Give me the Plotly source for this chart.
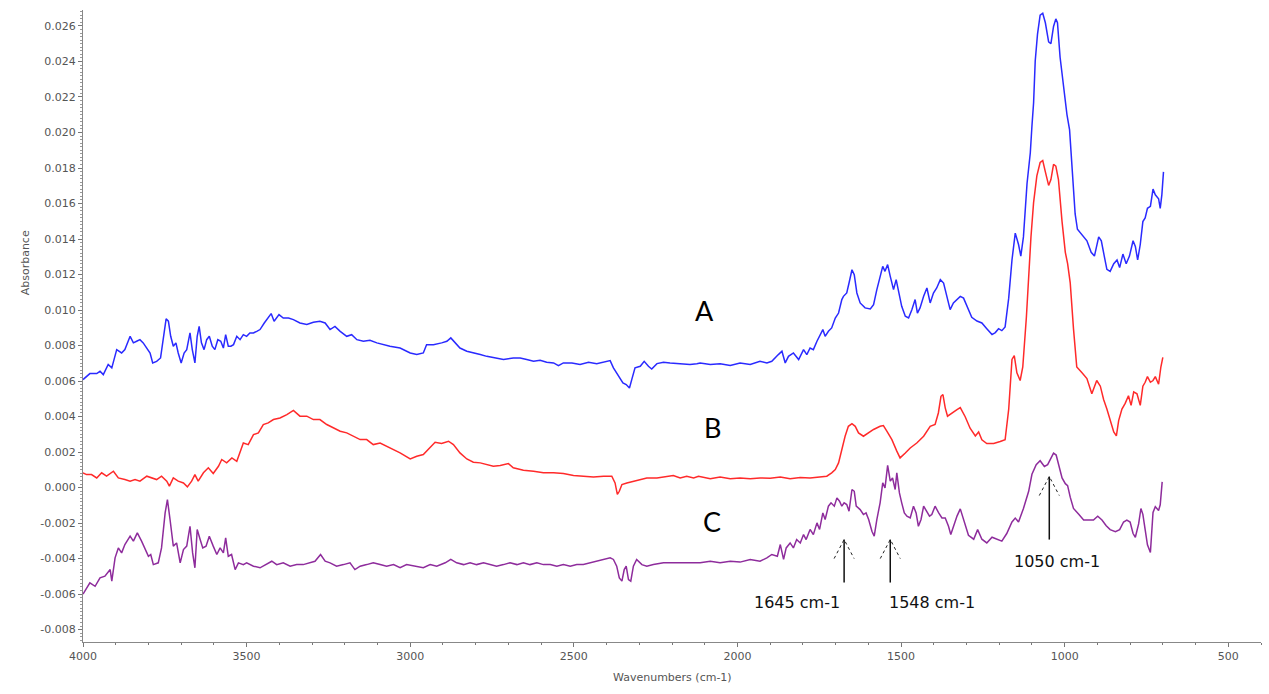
import plotly.graph_objects as go

# ---- Spectrum A (blue) ----
wn_a = [4000, 3979, 3958, 3948, 3938, 3923, 3912, 3897, 3882, 3872, 3856, 3846, 3836, 3826, 3816,
        3805, 3795, 3787, 3775, 3763, 3754, 3746, 3739, 3732, 3724, 3716, 3709, 3700, 3691, 3683,
        3673, 3666, 3658, 3651, 3645, 3638, 3630, 3622, 3614, 3605, 3597, 3588, 3579, 3571, 3564,
        3556, 3548, 3540, 3530, 3520, 3510, 3500, 3490, 3479, 3469, 3459, 3446, 3434, 3425, 3416,
        3401, 3388, 3372, 3357, 3337, 3316, 3296, 3276, 3260, 3245, 3230, 3214, 3194, 3179, 3163,
        3143, 3123, 3102, 3092, 3062, 3031, 3000, 2980, 2960, 2950, 2929, 2904, 2888, 2876, 2863,
        2848, 2827, 2802, 2786, 2766, 2741, 2715, 2685, 2664, 2644, 2623, 2603, 2583, 2562, 2547,
        2532, 2506, 2481, 2455, 2430, 2409, 2389, 2379, 2364, 2350, 2340, 2330, 2323, 2313, 2297,
        2285, 2272, 2262, 2246, 2226, 2206, 2185, 2165, 2145, 2124, 2114, 2083, 2053, 2022, 1992,
        1961, 1931, 1910, 1895, 1875, 1864, 1854, 1844, 1829, 1813, 1798, 1788, 1778, 1768, 1757,
        1747, 1739, 1732, 1722, 1712, 1701, 1691, 1681, 1676, 1666, 1659, 1650, 1643, 1635, 1625,
        1610, 1594, 1584, 1574, 1564, 1556, 1549, 1541, 1533, 1523, 1515, 1508, 1498, 1487, 1477,
        1467, 1457, 1450, 1442, 1431, 1421, 1411, 1401, 1391, 1380, 1370, 1360, 1350, 1340, 1329,
        1319, 1309, 1299, 1284, 1268, 1253, 1238, 1222, 1212, 1202, 1192, 1182, 1171, 1161, 1151,
        1141, 1134, 1126, 1115, 1105, 1100, 1095, 1090, 1083, 1075, 1067, 1059, 1049, 1042, 1034,
        1027, 1022, 1014, 1003, 993, 985, 978, 968, 961, 947, 932, 919, 909, 896, 888,
        879, 871, 861, 850, 840, 832, 822, 812, 802, 791, 784, 777, 769, 761, 754,
        747, 738, 730, 723, 713, 708, 703, 698]
abs_a = [0.00608, 0.00642, 0.00642, 0.00655, 0.00636, 0.00693, 0.00674, 0.00777, 0.00758, 0.00777,
         0.00852, 0.00815, 0.00824, 0.00833, 0.00815, 0.00786, 0.00758, 0.00702, 0.00711, 0.00730,
         0.00852, 0.00950, 0.00937, 0.00852, 0.00796, 0.00815, 0.00758, 0.00702, 0.00758, 0.00777,
         0.00871, 0.00777, 0.00702, 0.00852, 0.00908, 0.00815, 0.00777, 0.00833, 0.00852, 0.00796,
         0.00777, 0.00833, 0.00824, 0.00786, 0.00861, 0.00796, 0.00796, 0.00805, 0.00852, 0.00833,
         0.00861, 0.00852, 0.00871, 0.00871, 0.00880, 0.00890, 0.00927, 0.00955, 0.00980, 0.00937,
         0.00974, 0.00955, 0.00955, 0.00946, 0.00927, 0.00918, 0.00931, 0.00937, 0.00927, 0.00890,
         0.00908, 0.00880, 0.00852, 0.00861, 0.00833, 0.00824, 0.00830, 0.00815, 0.00810, 0.00796,
         0.00786, 0.00758, 0.00749, 0.00758, 0.00805, 0.00805, 0.00815, 0.00824, 0.00843, 0.00815,
         0.00786, 0.00768, 0.00758, 0.00749, 0.00739, 0.00730, 0.00721, 0.00730, 0.00730, 0.00721,
         0.00711, 0.00717, 0.00706, 0.00702, 0.00687, 0.00702, 0.00702, 0.00693, 0.00706, 0.00698,
         0.00706, 0.00715, 0.00674, 0.00627, 0.00589, 0.00580, 0.00561, 0.00608, 0.00674, 0.00683,
         0.00711, 0.00683, 0.00668, 0.00698, 0.00706, 0.00702, 0.00698, 0.00693, 0.00693, 0.00698,
         0.00702, 0.00693, 0.00698, 0.00687, 0.00702, 0.00693, 0.00711, 0.00702, 0.00711, 0.00749,
         0.00768, 0.00702, 0.00739, 0.00758, 0.00721, 0.00777, 0.00749, 0.00786, 0.00777, 0.00824,
         0.00861, 0.00890, 0.00852, 0.00880, 0.00899, 0.00955, 0.00983, 0.01059, 0.01077, 0.01096,
         0.01152, 0.01227, 0.01199, 0.01096, 0.01040, 0.01012, 0.01006, 0.01030, 0.01115, 0.01190,
         0.01246, 0.01218, 0.01256, 0.01190, 0.01115, 0.01171, 0.01115, 0.01021, 0.00965, 0.00955,
         0.01002, 0.01059, 0.00983, 0.01012, 0.01077, 0.01124, 0.01040, 0.01096, 0.01124, 0.01171,
         0.01152, 0.01077, 0.01002, 0.01040, 0.01059, 0.01077, 0.01067, 0.01024, 0.00959, 0.00938,
         0.00927, 0.00895, 0.00862, 0.00873, 0.00895, 0.00884, 0.00905, 0.01067, 0.01282, 0.01433,
         0.01369, 0.01304, 0.01412, 0.01713, 0.01886, 0.02037, 0.02166, 0.02403, 0.02554, 0.02661,
         0.02672, 0.02618, 0.02511, 0.02500, 0.02597, 0.02640, 0.02618, 0.02424, 0.02252, 0.02101,
         0.02015, 0.01799, 0.01541, 0.01455, 0.01422, 0.01390, 0.01325, 0.01304, 0.01412, 0.01390,
         0.01304, 0.01229, 0.01218, 0.01261, 0.01282, 0.01239, 0.01315, 0.01261, 0.01304, 0.01390,
         0.01358, 0.01282, 0.01369, 0.01498, 0.01519, 0.01573, 0.01584, 0.01681, 0.01649, 0.01627,
         0.01573, 0.01649, 0.01778]

# ---- Spectrum B (red) ----
wn_b = [4000, 3989, 3974, 3958, 3943, 3928, 3907, 3892, 3872, 3856, 3841, 3826, 3805, 3790, 3775,
        3760, 3744, 3736, 3724, 3709, 3693, 3681, 3668, 3658, 3648, 3632, 3617, 3602, 3586, 3576,
        3561, 3545, 3530, 3510, 3495, 3479, 3464, 3449, 3434, 3418, 3398, 3377, 3357, 3337, 3316,
        3296, 3276, 3255, 3235, 3214, 3194, 3174, 3153, 3133, 3113, 3092, 3062, 3031, 3000, 2980,
        2960, 2939, 2924, 2904, 2883, 2868, 2848, 2827, 2807, 2786, 2766, 2746, 2725, 2700, 2685,
        2654, 2623, 2593, 2562, 2532, 2501, 2471, 2440, 2409, 2384, 2374, 2367, 2361, 2353, 2338,
        2318, 2297, 2277, 2246, 2216, 2196, 2175, 2155, 2134, 2119, 2083, 2053, 2022, 1992, 1961,
        1931, 1900, 1869, 1839, 1808, 1778, 1747, 1727, 1712, 1701, 1691, 1681, 1671, 1661, 1650,
        1640, 1630, 1615, 1599, 1584, 1564, 1554, 1543, 1528, 1513, 1503, 1487, 1472, 1452, 1431,
        1411, 1396, 1386, 1378, 1372, 1365, 1358, 1345, 1329, 1319, 1304, 1289, 1273, 1263, 1253,
        1238, 1217, 1197, 1182, 1171, 1161, 1154, 1146, 1136, 1128, 1117, 1110, 1103, 1095, 1085,
        1075, 1067, 1059, 1049, 1042, 1034, 1027, 1019, 1008, 998, 991, 983, 973, 963, 947,
        932, 917, 902, 891, 881, 871, 861, 850, 842, 835, 825, 815, 805, 797, 789,
        779, 769, 761, 754, 747, 738, 730, 723, 713, 706, 700]
abs_b = [0.00083, 0.00073, 0.00073, 0.00054, 0.00083, 0.00064, 0.00092, 0.00054, 0.00045, 0.00036,
         0.00045, 0.00036, 0.00064, 0.00054, 0.00045, 0.00064, 0.00036, 0.00008, 0.00054, 0.00036,
         0.00026, 0.00004, 0.00036, 0.00073, 0.00036, 0.00083, 0.00111, 0.00079, 0.00120, 0.00158,
         0.00139, 0.00167, 0.00148, 0.00251, 0.00242, 0.00298, 0.00308, 0.00355, 0.00364, 0.00383,
         0.00392, 0.00411, 0.00435, 0.00402, 0.00402, 0.00383, 0.00383, 0.00355, 0.00336, 0.00317,
         0.00308, 0.00289, 0.00270, 0.00270, 0.00242, 0.00251, 0.00223, 0.00195, 0.00161, 0.00176,
         0.00186, 0.00223, 0.00255, 0.00248, 0.00261, 0.00242, 0.00195, 0.00161, 0.00143, 0.00139,
         0.00130, 0.00120, 0.00124, 0.00135, 0.00111, 0.00098, 0.00092, 0.00083, 0.00083, 0.00079,
         0.00068, 0.00064, 0.00060, 0.00064, 0.00064, 0.00026, -0.00039, -0.00021, 0.00017, 0.00026,
         0.00036, 0.00045, 0.00054, 0.00054, 0.00064, 0.00068, 0.00054, 0.00064, 0.00054, 0.00064,
         0.00049, 0.00060, 0.00049, 0.00054, 0.00049, 0.00054, 0.00053, 0.00060, 0.00049, 0.00056,
         0.00054, 0.00060, 0.00064, 0.00083, 0.00101, 0.00139, 0.00214, 0.00289, 0.00345, 0.00360,
         0.00345, 0.00308, 0.00289, 0.00308, 0.00327, 0.00345, 0.00349, 0.00317, 0.00270, 0.00205,
         0.00167, 0.00195, 0.00223, 0.00251, 0.00289, 0.00345, 0.00355, 0.00420, 0.00514, 0.00524,
         0.00449, 0.00402, 0.00420, 0.00439, 0.00450, 0.00399, 0.00334, 0.00291, 0.00313, 0.00269,
         0.00248, 0.00248, 0.00259, 0.00269, 0.00442, 0.00722, 0.00743, 0.00646, 0.00603, 0.00679,
         0.00959, 0.01196, 0.01411, 0.01605, 0.01756, 0.01831, 0.01842, 0.01778, 0.01702, 0.01735,
         0.01821, 0.01810, 0.01735, 0.01498, 0.01325, 0.01261, 0.01153, 0.00894, 0.00679, 0.00646,
         0.00614, 0.00528, 0.00603, 0.00571, 0.00496, 0.00442, 0.00377, 0.00313, 0.00291, 0.00377,
         0.00442, 0.00474, 0.00517, 0.00463, 0.00539, 0.00528, 0.00463, 0.00571, 0.00593, 0.00625,
         0.00593, 0.00603, 0.00625, 0.00582, 0.00679, 0.00733]

# ---- Spectrum C (purple) ----
wn_c = [4000, 3979, 3963, 3948, 3933, 3917, 3912, 3902, 3892, 3882, 3872, 3856, 3846, 3834, 3821,
        3811, 3800, 3793, 3785, 3770, 3760, 3749, 3742, 3734, 3724, 3714, 3703, 3693, 3683, 3673,
        3665, 3658, 3651, 3642, 3634, 3624, 3614, 3602, 3591, 3581, 3571, 3564, 3556, 3546, 3535,
        3525, 3510, 3500, 3479, 3459, 3439, 3423, 3408, 3388, 3367, 3347, 3327, 3306, 3291, 3274,
        3260, 3245, 3225, 3204, 3184, 3169, 3153, 3133, 3113, 3092, 3072, 3051, 3031, 3011, 2990,
        2960, 2939, 2919, 2893, 2876, 2858, 2837, 2817, 2797, 2776, 2756, 2736, 2715, 2695, 2674,
        2654, 2634, 2613, 2593, 2572, 2552, 2532, 2511, 2491, 2471, 2450, 2430, 2409, 2389, 2379,
        2369, 2361, 2353, 2346, 2340, 2333, 2326, 2318, 2308, 2292, 2277, 2257, 2226, 2196, 2165,
        2134, 2114, 2083, 2053, 2022, 1992, 1961, 1931, 1910, 1895, 1878, 1869, 1859, 1851, 1839,
        1829, 1819, 1808, 1798, 1790, 1778, 1768, 1757, 1749, 1739, 1732, 1722, 1714, 1704, 1696,
        1688, 1681, 1674, 1666, 1659, 1650, 1643, 1637, 1625, 1615, 1607, 1599, 1589, 1582, 1574,
        1564, 1556, 1549, 1541, 1533, 1526, 1518, 1513, 1505, 1498, 1490, 1482, 1472, 1462, 1454,
        1447, 1439, 1431, 1421, 1413, 1406, 1396, 1385, 1375, 1365, 1355, 1348, 1340, 1329, 1319,
        1309, 1294, 1278, 1266, 1253, 1238, 1222, 1207, 1192, 1177, 1161, 1151, 1141, 1126, 1110,
        1100, 1087, 1075, 1062, 1052, 1042, 1034, 1026, 1019, 1008, 998, 991, 983, 973, 957,
        942, 927, 912, 899, 886, 873, 861, 845, 832, 820, 810, 800, 791, 784, 774,
        767, 761, 754, 747, 738, 730, 723, 713, 708, 702]
abs_c = [-0.00600, -0.00537, -0.00556, -0.00509, -0.00499, -0.00462, -0.00527, -0.00396, -0.00340, -0.00368,
         -0.00321, -0.00274, -0.00302, -0.00255, -0.00302, -0.00340, -0.00387, -0.00377, -0.00434, -0.00424,
         -0.00340, -0.00143, -0.00068, -0.00180, -0.00330, -0.00312, -0.00424, -0.00349, -0.00330, -0.00218,
         -0.00368, -0.00452, -0.00236, -0.00293, -0.00340, -0.00330, -0.00274, -0.00330, -0.00377, -0.00340,
         -0.00368, -0.00283, -0.00387, -0.00377, -0.00462, -0.00424, -0.00434, -0.00424, -0.00443, -0.00452,
         -0.00434, -0.00415, -0.00434, -0.00424, -0.00443, -0.00434, -0.00434, -0.00424, -0.00415, -0.00377,
         -0.00415, -0.00424, -0.00443, -0.00434, -0.00424, -0.00462, -0.00443, -0.00434, -0.00424, -0.00434,
         -0.00443, -0.00434, -0.00452, -0.00434, -0.00443, -0.00452, -0.00434, -0.00443, -0.00424, -0.00405,
         -0.00424, -0.00434, -0.00424, -0.00434, -0.00424, -0.00434, -0.00443, -0.00434, -0.00424, -0.00434,
         -0.00424, -0.00434, -0.00424, -0.00434, -0.00434, -0.00443, -0.00434, -0.00443, -0.00434, -0.00434,
         -0.00424, -0.00415, -0.00405, -0.00396, -0.00405, -0.00443, -0.00509, -0.00527, -0.00462, -0.00443,
         -0.00518, -0.00527, -0.00443, -0.00405, -0.00434, -0.00443, -0.00434, -0.00424, -0.00424, -0.00424,
         -0.00424, -0.00424, -0.00415, -0.00424, -0.00415, -0.00420, -0.00405, -0.00415, -0.00396, -0.00377,
         -0.00387, -0.00321, -0.00405, -0.00340, -0.00312, -0.00340, -0.00293, -0.00312, -0.00265, -0.00293,
         -0.00236, -0.00265, -0.00199, -0.00236, -0.00143, -0.00180, -0.00105, -0.00086, -0.00105, -0.00058,
         -0.00077, -0.00105, -0.00086, -0.00096, -0.00133, -0.00011, -0.00021, -0.00105, -0.00124, -0.00152,
         -0.00143, -0.00180, -0.00246, -0.00274, -0.00180, -0.00086, 0.00026, -0.00002, 0.00125, 0.00036,
         0.00054, -0.00011, 0.00083, -0.00030, -0.00086, -0.00143, -0.00161, -0.00171, -0.00105, -0.00143,
         -0.00218, -0.00180, -0.00105, -0.00133, -0.00161, -0.00152, -0.00105, -0.00143, -0.00171, -0.00171,
         -0.00218, -0.00265, -0.00218, -0.00161, -0.00120, -0.00183, -0.00269, -0.00291, -0.00237, -0.00291,
         -0.00312, -0.00280, -0.00291, -0.00302, -0.00259, -0.00194, -0.00172, -0.00194, -0.00118, -0.00021,
         0.00075, 0.00129, 0.00151, 0.00119, 0.00129, 0.00162, 0.00194, 0.00183, 0.00129, 0.00054,
         0.00022, 0.00011, -0.00054, -0.00118, -0.00151, -0.00183, -0.00183, -0.00183, -0.00162, -0.00183,
         -0.00215, -0.00237, -0.00248, -0.00237, -0.00194, -0.00183, -0.00194, -0.00259, -0.00280, -0.00205,
         -0.00118, -0.00151, -0.00237, -0.00323, -0.00366, -0.00140, -0.00108, -0.00129, -0.00097, 0.00032]

# ---- Axis ticks ----
x_tick_vals = [4000, 3500, 3000, 2500, 2000, 1500, 1000, 500]
y_tick_vals = [-0.008, -0.006, -0.004, -0.002, 0.000, 0.002, 0.004, 0.006, 0.008,
               0.010, 0.012, 0.014, 0.016, 0.018, 0.020, 0.022, 0.024, 0.026]
y_tick_text = ["-0.008", "-0.006", "-0.004", "-0.002", "0.000", "0.002", "0.004", "0.006", "0.008",
               "0.010", "0.012", "0.014", "0.016", "0.018", "0.020", "0.022", "0.024", "0.026"]

# ---- Labels ----
curve_labels = ["A", "B", "C"]
curve_label_wn = [2102, 2077, 2077]
curve_label_abs = [0.0100, 0.0034, -0.0019]

peak_text = ["1645 cm-1", "1548 cm-1", "1050 cm-1"]
peak_arrow_wn = [1674, 1533, 1047]
peak_arrow_top = [-0.00293, -0.00293, 0.00062]
peak_arrow_bottom = [-0.00535, -0.00535, -0.00293]
peak_text_wn = [1817, 1405, 1023]
peak_text_abs = [-0.00648, -0.00648, -0.00417]

fig = go.Figure()
for wn, ab, col in [(wn_a, abs_a, "#2a2aff"), (wn_b, abs_b, "#ff2a2a"), (wn_c, abs_c, "#8e2c9c")]:
    fig.add_trace(go.Scatter(x=wn, y=ab, mode="lines",
                             line=dict(color=col, width=1.5), showlegend=False,
                             hoverinfo="skip"))

annotations = []
for t, xw, ya in zip(curve_labels, curve_label_wn, curve_label_abs):
    annotations.append(dict(x=xw, y=ya, xref="x", yref="y", text=t, showarrow=False,
                            font=dict(family="Lato, Liberation Sans, sans-serif", size=27, color="black")))
for t, xw, ya in zip(peak_text, peak_text_wn, peak_text_abs):
    annotations.append(dict(x=xw, y=ya, xref="x", yref="y", text=t, showarrow=False,
                            font=dict(family="DejaVu Sans, sans-serif", size=16, color="#111")))

annotations.append(dict(x=-0.056, y=0.6, xref="paper", yref="paper", text="Absorbance",
                        textangle=-90, showarrow=False,
                        font=dict(family="DejaVu Sans, sans-serif", size=11, color="#555")))
annotations.append(dict(x=0.5, y=-0.069, xref="paper", yref="paper", text="Wavenumbers (cm-1)",
                        showarrow=False,
                        font=dict(family="DejaVu Sans, sans-serif", size=11, color="#555")))

shapes = []
for xw, top, bot in zip(peak_arrow_wn, peak_arrow_top, peak_arrow_bottom):
    shapes.append(dict(type="line", xref="x", yref="y", x0=xw, x1=xw, y0=bot, y1=top,
                       line=dict(color="#111", width=1.5)))
    shapes.append(dict(type="path", xref="x", yref="y", xsizemode="pixel", ysizemode="pixel",
                       xanchor=xw, yanchor=top, path="M-10,-19 L0,0 L10,-19",
                       line=dict(color="#222", width=1, dash="dot")))

fig.update_layout(
    width=1269, height=694,
    margin=dict(l=83, r=8, t=10, b=52),
    paper_bgcolor="white", plot_bgcolor="white",
    annotations=annotations, shapes=shapes,
    xaxis=dict(range=[4000, 400], tickvals=x_tick_vals,
               ticks="outside", ticklen=4, tickcolor="#777", showline=True, linecolor="#888",
               linewidth=1, showgrid=False, zeroline=False,
               minor=dict(dtick=100, ticks="outside", ticklen=2, tickcolor="#777"),
               tickfont=dict(family="DejaVu Sans, sans-serif", size=11, color="#555")),
    yaxis=dict(range=[-0.0087, 0.0269], tickvals=y_tick_vals, ticktext=y_tick_text,
               ticks="outside", ticklen=4, tickcolor="#777", showline=True, linecolor="#888",
               linewidth=1, showgrid=False, zeroline=False,
               minor=dict(dtick=0.0002, ticks="outside", ticklen=2, tickcolor="#999"),
               tickfont=dict(family="DejaVu Sans, sans-serif", size=11, color="#555")),
)

fig.write_html("out.html")
